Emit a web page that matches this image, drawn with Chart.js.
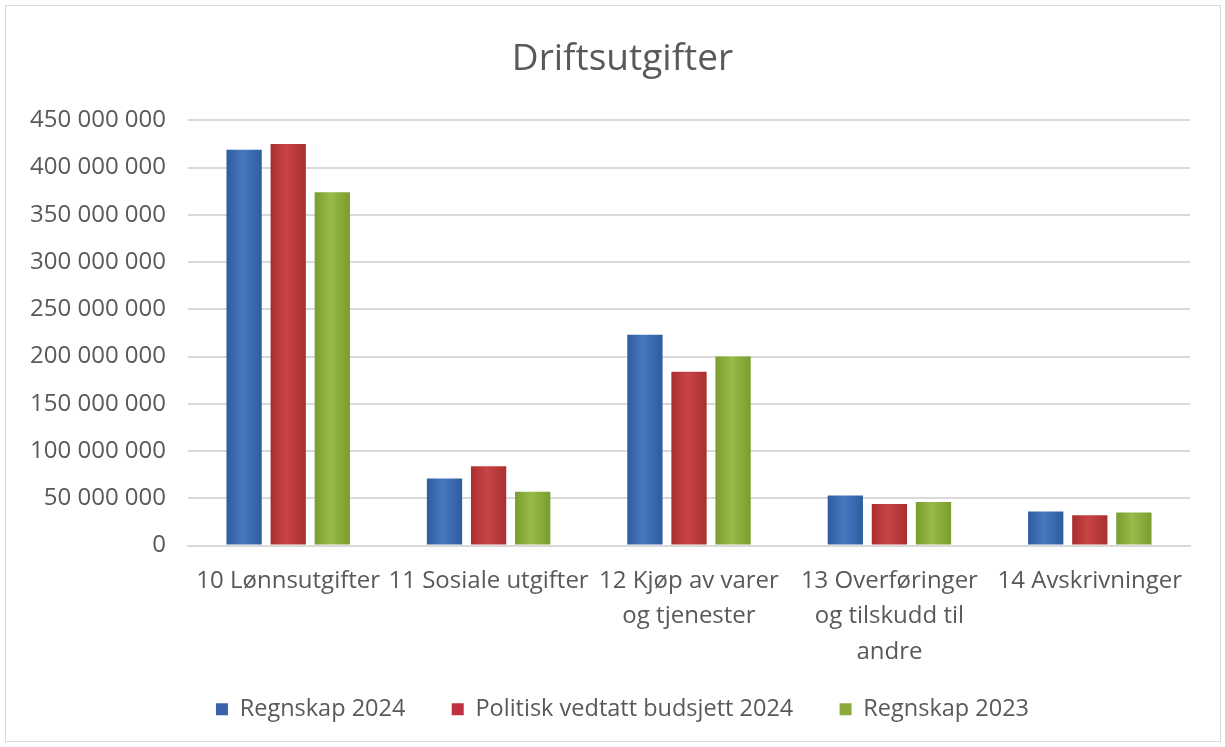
<!DOCTYPE html>
<html>
<head>
<meta charset="utf-8">
<script src="https://cdn.jsdelivr.net/npm/chart.js@4.4.1/dist/chart.umd.min.js"></script>
<style>
  html, body { margin: 0; padding: 0; background: #fff; }
  #frame {
    position: absolute; left: 5px; top: 5px; width: 1214px; height: 735px;
    border: 1px solid #d9d9d9;
  }
  #wrap { position: absolute; left: 0; top: 0; width: 1225px; height: 747px; }
</style>
</head>
<body>
<div id="frame"></div>
<div id="wrap"><canvas id="chart"></canvas></div>
<script>
// Data (NOK)
const categories = [
  '10 Lønnsutgifter',
  '11 Sosiale utgifter',
  ['12 Kjøp av varer', 'og tjenester'],
  ['13 Overføringer', 'og tilskudd til', 'andre'],
  '14 Avskrivninger',
];
const seriesNames = ['Regnskap 2024', 'Politisk vedtatt budsjett 2024', 'Regnskap 2023'];
const regnskap2024 = [419000000, 71000000, 223000000, 53000000, 36000000];
const budsjett2024 = [425000000, 84000000, 184000000, 44000000, 32000000];
const regnskap2023 = [374000000, 57000000, 200000000, 46000000, 35000000];
const yTicksMax = 450000000;
const yTicksStep = 50000000;

// Flat colours for legend, edge/centre colours for the bar shading
const FLAT = ['#3A62AA', '#C0303F', '#8BAA3A'];
const SHADE = [
  { edge: '#2E5C9E', mid: '#4679C0' },
  { edge: '#A92F2F', mid: '#C84444' },
  { edge: '#7A9C30', mid: '#97BC47' },
];

const CAT_PCT = 0.66;
const BAR_PCT = 0.8;
const TEXT = '#595959';
const FONT = "'Open Sans', sans-serif";

function spaced(v) {
  return String(v).replace(/\B(?=(\d{3})+(?!\d))/g, ' ');
}

// horizontal gradient across each bar, like the Excel fill
function barFill(ctx) {
  const chart = ctx.chart;
  const xs = chart.scales.x;
  const s = SHADE[ctx.datasetIndex];
  if (!xs || !chart.chartArea) return s.mid;
  const cw = xs.width / categories.length;
  const slot = cw * CAT_PCT / 3;
  const center = xs.getPixelForValue(ctx.dataIndex);
  const left = center - cw * CAT_PCT / 2 + ctx.datasetIndex * slot + slot * (1 - BAR_PCT) / 2;
  const w = slot * BAR_PCT;
  const g = chart.ctx.createLinearGradient(left, 0, left + w, 0);
  g.addColorStop(0, s.edge);
  g.addColorStop(0.45, s.mid);
  g.addColorStop(1, s.edge);
  return g;
}

new Chart(document.getElementById('chart'), {
  type: 'bar',
  data: {
    labels: categories,
    datasets: [regnskap2024, budsjett2024, regnskap2023].map((d, i) => ({
      label: seriesNames[i],
      data: d,
      backgroundColor: barFill,
      borderWidth: 0,
      categoryPercentage: CAT_PCT,
      barPercentage: BAR_PCT,
    })),
  },
  options: {
    responsive: true,
    maintainAspectRatio: false,
    animation: false,
    layout: { padding: { left: 20, right: 0, top: 0, bottom: 16 } },
    plugins: {
      title: {
        display: true,
        text: 'Driftsutgifter',
        color: TEXT,
        font: { family: FONT, size: 37, weight: 'normal' },
        padding: { top: 37, bottom: 39 },
      },
      legend: {
        position: 'bottom',
        labels: {
          color: TEXT,
          font: { family: FONT, size: 23.5 },
          boxWidth: 12,
          boxHeight: 12,
          padding: 28,
          generateLabels(chart) {
            const items = Chart.defaults.plugins.legend.labels.generateLabels(chart);
            items.forEach((it, i) => {
              it.fillStyle = FLAT[i];
              it.strokeStyle = FLAT[i];
              it.lineWidth = 0;
              // a bit more room between the entries than the vertical padding allows
              if (i < items.length - 1) it.text += '\u00a0\u00a0\u00a0';
            });
            return items;
          },
        },
      },
      tooltip: { enabled: false },
    },
    scales: {
      x: {
        grid: { display: false, drawTicks: false },
        border: { display: true, color: '#d9d9d9', width: 2 },
        ticks: {
          color: TEXT,
          font: { family: FONT, size: 24, lineHeight: 1.47 },
          padding: 18,
          autoSkip: false,
          maxRotation: 0,
          minRotation: 0,
        },
        afterFit(scale) { scale.height = 124; },
      },
      y: {
        min: 0,
        max: yTicksMax,
        grid: { color: '#d9d9d9', lineWidth: 2, drawTicks: false },
        border: { display: false },
        ticks: {
          stepSize: yTicksStep,
          color: TEXT,
          font: { family: FONT, size: 24 },
          padding: 22,
          callback: (v) => spaced(v),
        },
        afterFit(scale) { scale.width = 168; },
      },
      // empty right-hand axis, only keeps the plot clear of the right edge
      yRight: {
        position: 'right',
        display: true,
        grid: { display: false, drawTicks: false },
        border: { display: false },
        ticks: { display: false },
        afterFit(scale) { scale.width = 35; },
      },
    },
  },
});
</script>
</body>
</html>
